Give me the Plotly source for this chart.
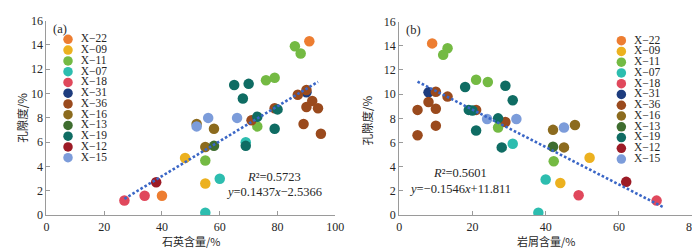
import plotly.graph_objects as go

# ---------------- data ----------------
series_names = ["X−22", "X−09", "X−11", "X−07", "X−18", "X−31",
                "X−36", "X−16", "X−13", "X−19", "X−12", "X−15"]
series_colors = ["#ED7D31", "#ECB11F", "#74BA43", "#2DBDAF", "#E0485C", "#1D3C7E",
                 "#9A4A1D", "#8C6B1E", "#3E6D2F", "#0F6C63", "#9C1B26", "#7C9CDA"]

# panel (a): quartz content (%) vs porosity (%)
a_series = ["X−22", "X−22",
            "X−09", "X−09",
            "X−11", "X−11", "X−11", "X−11", "X−11", "X−11",
            "X−07", "X−07", "X−07",
            "X−18", "X−18",
            "X−31",
            "X−36", "X−36", "X−36", "X−36", "X−36", "X−36", "X−36", "X−36", "X−36",
            "X−16", "X−16", "X−16",
            "X−13",
            "X−19", "X−19", "X−19", "X−19", "X−19", "X−19", "X−19",
            "X−12",
            "X−15", "X−15", "X−15"]
a_quartz = [91, 40,
            48, 55,
            86, 88, 76, 79, 73, 55,
            69, 60, 55,
            27, 34,
            90,
            90, 87, 92, 90, 94, 79, 71, 89, 95,
            52, 58, 55,
            58,
            65, 70, 68, 80, 73, 79, 69,
            38,
            56, 66, 52]
a_porosity = [14.3, 1.6,
              4.7, 2.6,
              13.9, 13.3, 11.1, 11.3, 7.3, 4.5,
              6.0, 3.0, 0.2,
              1.2, 1.6,
              10.1,
              10.3, 9.9, 9.4, 8.9, 8.8, 8.8, 7.8, 7.5, 6.7,
              7.5, 7.1, 5.6,
              5.7,
              10.7, 10.8, 9.6, 8.7, 8.1, 7.1, 5.7,
              2.7,
              8.0, 8.0, 7.3]

# panel (b): lithic content (%) vs porosity (%)
b_series = ["X−22",
            "X−09", "X−09",
            "X−11", "X−11", "X−11", "X−11", "X−11", "X−11",
            "X−07", "X−07", "X−07",
            "X−18", "X−18",
            "X−31",
            "X−36", "X−36", "X−36", "X−36", "X−36", "X−36", "X−36", "X−36", "X−36",
            "X−16", "X−16", "X−16",
            "X−13",
            "X−19", "X−19", "X−19", "X−19", "X−19", "X−19", "X−19", "X−19",
            "X−12",
            "X−15", "X−15", "X−15"]
b_lithic = [9,
            52, 44,
            13.2, 12, 21, 24.2, 27, 42.2,
            31, 40, 38,
            49, 70.3,
            8,
            5, 5, 8, 10, 10, 10, 13.2, 21, 29,
            48, 42, 45,
            42,
            18, 29, 31, 19, 20, 21, 27, 28,
            62,
            24, 32, 45]
b_porosity = [14.2,
              4.75, 2.65,
              13.8, 13.25, 11.2, 11.0, 7.25, 4.45,
              5.9, 2.95, 0.2,
              1.65, 1.2,
              10.15,
              8.7, 6.6, 9.35, 10.2, 8.8, 7.4, 9.8, 8.7, 7.7,
              7.45, 7.05, 5.6,
              5.65,
              10.6, 10.7, 9.5, 8.7, 8.65, 7.0, 8.0, 5.6,
              2.75,
              7.95, 7.95, 7.25]

# linear fits (slope, intercept, x-range of trend line)
a_fit = (0.1437, -2.5366, 27, 94)
b_fit = (-0.1546, 11.811, 5, 72)

x_ticks_a = [0, 20, 40, 60, 80, 100]
x_ticks_b = [0, 20, 40, 60, 80]
y_ticks = [0, 2, 4, 6, 8, 10, 12, 14, 16]

# ---------------- styling ----------------
W, H = 700, 250
SERIF = "Liberation Serif, Times New Roman, Noto Sans CJK SC, serif"
CJK = "Noto Sans CJK SC, Liberation Serif, serif"
AX_COLOR = "#9a9a9a"
TXT = "#262626"
MSIZE = 10.5
LINE_BLUE = "#3A66C6"

def px_dom_x(x0, x1):
    return [x0 / W, x1 / W]

def px_dom_y(top, bottom):
    return [(H - bottom) / H, (H - top) / H]

fig = go.Figure()

def add_panel(series, xs, ys, xa, ya):
    for name, col in zip(series_names, series_colors):
        px = [x for s, x in zip(series, xs) if s == name]
        py = [y for s, y in zip(series, ys) if s == name]
        fig.add_trace(go.Scatter(x=px, y=py, mode="markers", name=name,
                                 marker=dict(color=col, size=MSIZE, line=dict(width=0)),
                                 xaxis=xa, yaxis=ya, showlegend=False))

def add_fit(fit, xa, ya):
    k, b, x0, x1 = fit
    fig.add_trace(go.Scatter(x=[x0, x1], y=[k * x0 + b, k * x1 + b], mode="lines",
                             line=dict(color=LINE_BLUE, width=2.6, dash="2.6px,2.1px"),
                             xaxis=xa, yaxis=ya, showlegend=False, hoverinfo="skip"))

add_panel(a_series, a_quartz, a_porosity, "x", "y")
add_fit(a_fit, "x", "y")
add_panel(b_series, b_lithic, b_porosity, "x2", "y2")
add_fit(b_fit, "x2", "y2")

# custom compact legends drawn on a pixel-coordinate overlay axis
def add_legend(x_marker, y_first, step):
    n = len(series_names)
    fig.add_trace(go.Scatter(
        x=[x_marker] * n, y=[y_first + i * step for i in range(n)],
        mode="markers+text", text=["  " + s for s in series_names],
        textposition="middle right",
        textfont=dict(family=SERIF, size=11.5, color=TXT),
        marker=dict(color=series_colors, size=9.5),
        xaxis="x3", yaxis="y3", showlegend=False, hoverinfo="skip", cliponaxis=False))

add_legend(58, 25.8, 11.4)
add_legend(621, 27.2, 11.4)

axis_common = dict(showgrid=False, zeroline=False, showline=True, linecolor=AX_COLOR,
                   linewidth=1, ticks="inside", ticklen=4, tickcolor=AX_COLOR,
                   tickfont=dict(family=SERIF, size=12, color=TXT))

fig.update_layout(
    width=W, height=H, margin=dict(l=0, r=0, t=0, b=0),
    paper_bgcolor="white", plot_bgcolor="rgba(0,0,0,0)",
    xaxis=dict(axis_common, domain=px_dom_x(36, 330), range=[0, 100],
               tickvals=x_ticks_a, anchor="y"),
    yaxis=dict(axis_common, domain=px_dom_y(6, 212), range=[0, 16],
               tickvals=y_ticks, anchor="x"),
    xaxis2=dict(axis_common, domain=px_dom_x(395, 693), range=[0, 80],
                tickvals=x_ticks_b, anchor="y2"),
    yaxis2=dict(axis_common, domain=px_dom_y(7, 212), range=[0, 16],
                tickvals=y_ticks, anchor="x2"),
    xaxis3=dict(domain=[0, 1], range=[0, W], visible=False, anchor="y3"),
    yaxis3=dict(domain=[0, 1], range=[H, 0], visible=False, anchor="x3"),
)

def ann(x, y, text, size=12, font=SERIF, angle=0, xanchor="center", yanchor="middle"):
    fig.add_annotation(x=x / W, y=1 - y / H, xref="paper", yref="paper", text=text,
                       showarrow=False, textangle=angle, xanchor=xanchor, yanchor=yanchor,
                       font=dict(family=font, size=size, color=TXT))

# panel labels
ann(41, 15, "(a)", size=12.5, xanchor="left")
ann(400, 16, "(b)", size=12.5, xanchor="left")

# axis titles
ann(183, 250, "石英含量/%", size=11, font=CJK, yanchor="bottom")
ann(544, 250, "岩屑含量/%", size=11, font=CJK, yanchor="bottom")
ann(11, 109, "孔隙度/%", size=11.5, font=CJK, angle=-90)
ann(362, 112, "孔隙度/%", size=11.5, font=CJK, angle=-90)

# fit equations
ann(268, 172, "<i>R</i>²=0.5723", size=12.5)
ann(268, 188, "<i>y</i>=0.1437<i>x</i>−2.5366", size=12.5)
ann(457, 167, "<i>R</i>²=0.5601", size=12.5)
ann(457, 184, "<i>y</i>=−0.1546<i>x</i>+11.811", size=12.5)

fig.write_html("out.html")
